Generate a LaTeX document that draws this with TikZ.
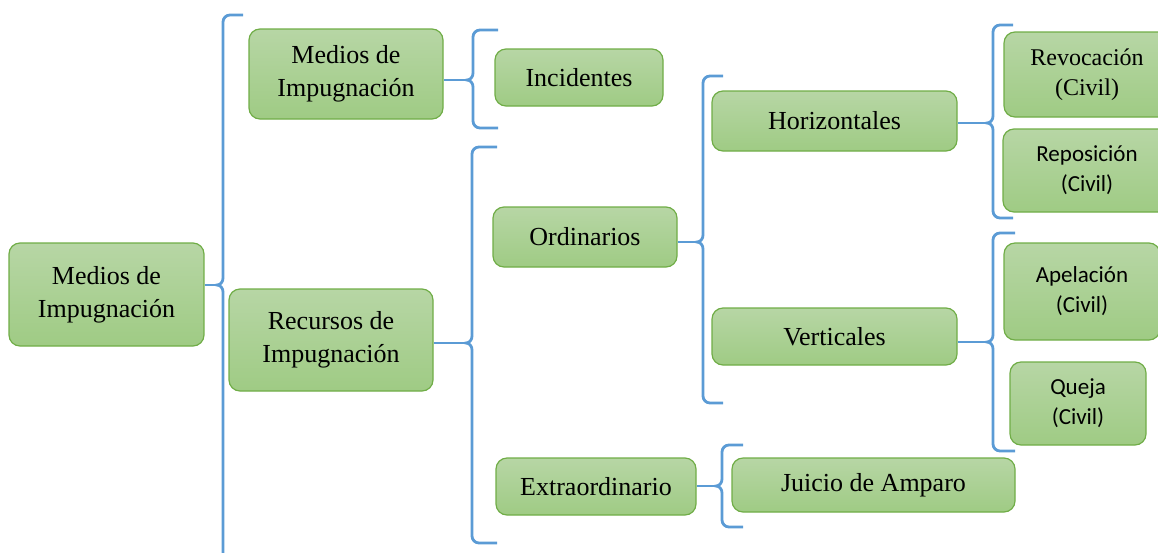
\documentclass[tikz,border=0pt]{standalone}
\usepackage{fontspec}
\setmainfont{Liberation Serif}
\newfontfamily\calibrifont{Carlito}
\usetikzlibrary{positioning,calc}
\definecolor{boxtop}{RGB}{183,214,165}
\definecolor{boxbot}{RGB}{159,203,132}
\definecolor{boxline}{RGB}{112,173,71}
\definecolor{bracecol}{RGB}{91,155,213}
\tikzset{
    box/.style={rectangle, rounded corners=11pt, draw=boxline, line width=1.2pt,
        top color=boxtop, bottom color=boxbot, align=center, inner sep=2pt,
        font=\fontsize{26}{33}\selectfont},
    smallbox/.style={box, font=\calibrifont\fontsize{23}{30}\selectfont},
    dims/.style 2 args={minimum width=#1pt, minimum height=#2pt},
    brace/.style={draw=bracecol, line width=2.8pt}
}
% #1 parent, #2 spine x, #3 top y, #4 tip y, #5 bottom y, #6 hook end x
\newcommand{\curlybrace}[6]{%
  \coordinate (bracetip) at (#2-6,#4);
  \draw[brace] (#6,#3) -- (#2+7,#3) to[out=180,in=90] (#2,#3+7) -- (#2,#4-7)
    to[out=-90,in=0] (bracetip) to[out=0,in=90] (#2,#4+7) -- (#2,#5-7)
    to[out=-90,in=180] (#2+7,#5) -- (#6,#5);
  \draw[brace] (#1.east |- bracetip) -- (bracetip);
}
\begin{document}
\begin{tikzpicture}[x=1pt, y=-1pt]
  \clip (0,0) rectangle (1158,552);

  \node[box, dims={195}{103}] (root)     at (106.5,294.5) {Medios de\\Impugnación};
  \node[box, dims={194}{90}]  (medios)   at (346,74)      {Medios de\\Impugnación};
  \node[box, dims={204}{102}] (recursos) at (331,340)     {Recursos de\\Impugnación};

  \node[box, dims={168}{57}] (incid)  at (579,77.5)  {Incidentes};
  \node[box, dims={184}{60}] (ordin)  at (585,237)   {Ordinarios};
  \node[box, dims={200}{57}] (extra)  at (596,486.5) {Extraordinario};

  \node[box, dims={245}{60}] (horiz)  at (834.5,121)   {Horizontales};
  \node[box, dims={245}{57}] (verti)  at (834.5,336.5) {Verticales};
  \node[box, dims={283}{54}] (amparo) at (873.5,485)   {Juicio de Amparo};

  \node[box, dims={166}{85}, font=\fontsize{24}{30}\selectfont] (revoc) at (1087,74.5) {Revocación\\(Civil)};
  \node[smallbox, dims={168}{83}] (repos) at (1087,170.5) {Reposición\\(Civil)};
  \node[smallbox, dims={156}{97}] (apel)  at (1082,291.5) {Apelación\\(Civil)};
  \node[smallbox, dims={136}{83}] (queja) at (1078,403.5) {Queja\\(Civil)};

  \curlybrace{root}{223}{15}{285}{570}{243}
  \curlybrace{medios}{473}{30}{80}{128}{498}
  \curlybrace{recursos}{472}{147}{343}{543}{497}
  \curlybrace{ordin}{703}{76}{242}{403}{723}
  \curlybrace{extra}{722}{445}{486}{527}{743}
  \curlybrace{horiz}{993}{25}{123}{218}{1013}
  \curlybrace{verti}{993}{233}{342}{451}{1015}
\end{tikzpicture}
\end{document}
